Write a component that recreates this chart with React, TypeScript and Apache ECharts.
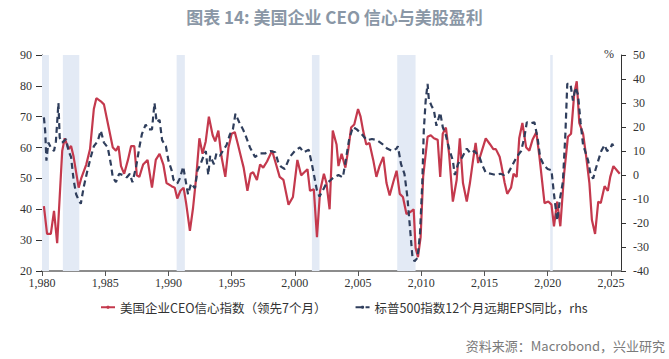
import React, { useEffect, useRef } from "react";
import * as echarts from "echarts";

// 美国企业CEO信心指数（领先7个月） — left axis
const ceoDates = [
  1980.15, 1980.4, 1980.7, 1980.95, 1981.2, 1981.6, 1981.8, 1982.1, 1982.3, 1982.5, 1982.9,
  1983.1, 1983.5, 1983.8, 1984.1, 1984.3, 1984.65, 1984.9, 1985.3, 1985.6, 1985.85,
  1986.05, 1986.25, 1986.5, 1986.8, 1987.05, 1987.3, 1987.5, 1987.7, 1988.0, 1988.35,
  1988.7, 1989.0, 1989.3, 1989.6, 1989.85, 1990.25, 1990.5, 1990.7, 1990.95, 1991.2,
  1991.4, 1991.7, 1991.95, 1992.2, 1992.45, 1992.7, 1992.95, 1993.2, 1993.5, 1993.7,
  1993.95, 1994.2, 1994.5, 1994.75, 1995.0, 1995.25, 1995.5, 1995.8, 1995.95, 1996.25,
  1996.5, 1996.7, 1997.0, 1997.25, 1997.5, 1997.8, 1998.2, 1998.45, 1998.8, 1999.1,
  1999.5, 1999.85, 2000.2, 2000.5, 2000.75, 2001.0, 2001.2, 2001.5, 2001.75, 2002.0,
  2002.3, 2002.5, 2002.75, 2003.0, 2003.3, 2003.45, 2003.7, 2004.0, 2004.25, 2004.45,
  2004.7, 2005.0, 2005.2, 2005.4, 2005.65, 2005.9, 2006.2, 2006.45, 2006.7, 2007.0,
  2007.25, 2007.5, 2007.8, 2008.05, 2008.3, 2008.55, 2008.83, 2009.1, 2009.4, 2009.55,
  2009.74, 2009.95, 2010.15, 2010.5, 2010.75, 2011.0, 2011.3, 2011.5, 2011.7, 2011.95,
  2012.2, 2012.5, 2012.8, 2013.05, 2013.3, 2013.6, 2013.85, 2014.1, 2014.3, 2014.5,
  2014.8, 2015.1, 2015.45, 2015.7, 2015.9, 2016.2, 2016.35, 2016.6, 2016.8, 2017.1,
  2017.3, 2017.55, 2017.75, 2018.0, 2018.3, 2018.55, 2018.8, 2019.1, 2019.35, 2019.75,
  2020.05, 2020.3, 2020.5, 2020.75, 2021.0, 2021.3, 2021.6, 2021.85, 2022.1, 2022.3,
  2022.5, 2022.8, 2023.05, 2023.3, 2023.5, 2023.75, 2024.0, 2024.2, 2024.5, 2024.76,
  2024.95, 2025.2, 2025.5, 2025.7,
];
const ceoValues = [
  41, 32, 32, 39.5, 29, 59, 63, 59.5, 60.5, 57, 47,
  50, 54.5, 59.5, 72.5, 76, 75, 74, 66, 60, 59,
  60.5, 54, 51.5, 56, 60.5, 60.5, 51, 50.5, 54.5, 56,
  47, 56, 58, 54.5, 48.5, 47.5, 47, 43.5, 46, 47,
  42, 33, 40.5, 50.5, 63, 58, 62, 70, 64, 62,
  65.5, 57, 50.5, 60, 64.5, 65, 61, 56, 53.5, 46,
  51.5, 52, 49.5, 54.5, 53.5, 55.5, 59, 55.5, 50.5, 49.5,
  41.5, 44, 56, 51, 52, 53, 46, 46.5, 31, 46,
  51.5, 48.5, 40, 65.5, 61, 54, 58, 53.5, 60, 66.5,
  67.5, 72.5, 70, 65.5, 61, 61.5, 56, 50.5, 54, 57,
  48.5, 44.5, 49, 52.5, 45, 44, 38.5, 39, 40, 27.5,
  24.5, 31, 50.5, 63.5, 64, 63, 62.5, 50.5, 64.5, 66.5,
  58, 42.5, 49.5, 63, 48.5, 42.5, 48.5, 56, 61.5, 55,
  59, 63, 61, 59.5, 59.5, 57, 54, 48.5, 45, 47,
  51.5, 50.5, 63, 68, 60, 59, 62.5, 65, 57, 42,
  42.5, 41.5, 34.5, 42.5, 34.5, 51.5, 63.5, 64.5, 77.5, 81.5,
  68, 64.5, 57, 48.5, 36.5, 32, 42.5, 42, 47.5, 46,
  50.5, 54, 52.5, 51.5,
];

// 标普500指数12个月远期EPS同比 (%) — right axis
const epsDates = [
  1980.15, 1980.25, 1980.35, 1980.5, 1980.7, 1980.95, 1981.1, 1981.3, 1981.4, 1981.6,
  1981.9, 1982.1, 1982.3, 1982.5, 1982.7, 1982.9, 1983.07, 1983.3, 1983.6, 1983.86,
  1984.1, 1984.4, 1984.65, 1984.9, 1985.2, 1985.45, 1985.6, 1985.85, 1986.1, 1986.4,
  1986.7, 1986.95, 1987.15, 1987.45, 1987.7, 1987.9, 1988.2, 1988.4, 1988.7, 1988.9,
  1989.07, 1989.3, 1989.5, 1989.8, 1990.0, 1990.25, 1990.4, 1990.7, 1990.9, 1991.17,
  1991.4, 1991.55, 1991.8, 1992.1, 1992.3, 1992.5, 1992.75, 1992.96, 1993.15, 1993.3,
  1993.6, 1993.8, 1994.07, 1994.3, 1994.6, 1994.87, 1995.1, 1995.3, 1995.6, 1995.9,
  1996.1, 1996.45, 1996.85, 1997.25, 1997.65, 1998.05, 1998.45, 1998.7, 1998.9, 1999.2,
  1999.6, 2000.0, 2000.4, 2000.7, 2001.1, 2001.35, 2001.55, 2001.75, 2001.95, 2002.2,
  2002.5, 2002.75, 2003.07, 2003.45, 2003.8, 2004.07, 2004.3, 2004.6, 2004.9, 2005.3,
  2005.7, 2006.1, 2006.5, 2006.9, 2007.3, 2007.7, 2008.04, 2008.15, 2008.4, 2008.67,
  2008.9, 2009.1, 2009.3, 2009.47, 2009.7, 2009.9, 2010.08, 2010.2, 2010.35, 2010.5,
  2010.6, 2010.8, 2011.0, 2011.2, 2011.5, 2011.7, 2011.95, 2012.2, 2012.5, 2012.65,
  2012.9, 2013.25, 2013.6, 2013.9, 2014.2, 2014.6, 2014.84, 2015.1, 2015.5, 2015.9,
  2016.25, 2016.55, 2016.9, 2017.2, 2017.55, 2017.9, 2018.15, 2018.35, 2018.6, 2018.95,
  2019.2, 2019.4, 2019.7, 2020.0, 2020.3, 2020.5, 2020.75, 2021.0, 2021.2, 2021.4,
  2021.55, 2021.8, 2022.0, 2022.2, 2022.4, 2022.6, 2022.8, 2022.96, 2023.2, 2023.4,
  2023.6, 2023.77, 2024.0, 2024.24, 2024.5, 2024.7, 2024.96, 2025.1, 2025.2,
];
const epsValues = [
  24, 18.5, 6, 13.5, 11.5, 10, 14, 30, 15.5, 13.5,
  15, 10, 7.5, -2, -8, -10.5, -12, -5, 2, 7.5,
  12, 14, 18.5, 13.5, 11.5, 4.5, -1, -3, 0.5, 0,
  -1, 0.5, -3, 3.5, 11.5, 17, 21, 19, 19, 30,
  22, 23, 14.5, 12, 6, 2, -2, -3.5, -1.5, 3.5,
  -3.5, -8, -3.5, -5.5, 2, 4, 7.5, 10, 0, 8,
  4.5, 9, 8, 10, 12.5, 17, 19, 25.5, 22, 19,
  16.5, 11.5, 7.5, 9, 9, 10, 9.5, 5, 3.5, 2.5,
  7.5, 10, 11.5, 9.5, 10.5, 4.5, -1, -6.5, -9, -6.5,
  -3.5, -2.5, -1, 0, -1, 7.5, 15, 20, 19, 17,
  14.5, 15, 14.5, 13, 11, 10, 11, 12, 4.5, 0.5,
  -9, -21.5, -34, -36, -34.5, -24.5, -3.5, 18.5, 31, 38,
  31.5, 29, 27, 20.5, 26, 20, 16.5, 11, 6, 0,
  4.5, 7.5, 11, 9, 10, 7.5, 4, 1, 0.5, 0,
  0.5, 0, 1, 4, 7.5, 10, 15.5, 22, 21.5, 22,
  15.5, 7.5, 4, 2.5, 2, -8, -19, -9, -3, 17,
  38, 38, 31, 36.5, 33.5, 22, 12.5, 10, 6, 0,
  -1.5, 2, 6, 10, 12.5, 10, 11, 13, 12,
];

const recessionStarts = [1980.0, 1981.65, 1990.65, 2001.35, 2008.1, 2020.2];
const recessionEnds = [1980.55, 1982.95, 1991.3, 2001.95, 2009.55, 2020.4];

const xTickYears = [1980, 1985, 1990, 1995, 2000, 2005, 2010, 2015, 2020, 2025];

const ceoName = "美国企业CEO信心指数（领先7个月）";
const epsName = "标普500指数12个月远期EPS同比，rhs";

export default function App() {
  const ref = useRef<HTMLDivElement>(null);

  useEffect(() => {
    document.body.style.margin = "0";
    if (!ref.current) return;
    const chart = echarts.init(ref.current, null, { renderer: "svg" });
    const serif = "Liberation Serif";
    const cjk = "Noto Sans CJK SC";

    chart.setOption({
      animation: false,
      backgroundColor: "#ffffff",
      textStyle: { fontFamily: serif },
      title: {
        text: "图表 14: 美国企业 CEO 信心与美股盈利",
        left: "center",
        top: 3,
        textStyle: {
          fontFamily: cjk,
          fontSize: 17,
          fontWeight: "bold",
          color: "#8a97a6",
        },
      },
      grid: { left: 42, right: 48, top: 55, bottom: 88, containLabel: false },
      legend: {
        data: [ceoName, epsName],
        left: 95,
        top: 296,
        itemWidth: 14,
        itemHeight: 4,
        itemGap: 28,
        textStyle: { fontFamily: cjk, fontSize: 12.5, color: "#333" },
      },
      xAxis: {
        type: "value",
        min: 1980,
        max: 2025.8,
        splitLine: { show: false },
        axisLine: { show: true, onZero: false, lineStyle: { color: "#8c8c8c", width: 2 } },
        axisTick: {
          show: true,
          length: 5,
          customValues: xTickYears,
          lineStyle: { color: "#555" },
        },
        axisLabel: {
          customValues: xTickYears,
          fontFamily: serif,
          fontSize: 12,
          color: "#333",
          margin: 6,
        },
      },
      yAxis: [
        {
          type: "value",
          min: 20,
          max: 90,
          interval: 10,
          position: "left",
          splitLine: { show: false },
          axisLine: { show: true, onZero: false, lineStyle: { color: "#333", width: 1 } },
          axisTick: { show: true, length: 6, lineStyle: { color: "#333" } },
          axisLabel: { fontFamily: serif, fontSize: 12, color: "#333", margin: 10 },
        },
        {
          type: "value",
          min: -40,
          max: 50,
          interval: 10,
          position: "right",
          splitLine: { show: false },
          axisLine: { show: true, onZero: false, lineStyle: { color: "#333", width: 1 } },
          axisTick: { show: true, length: 5, lineStyle: { color: "#333" } },
          axisLabel: { fontFamily: serif, fontSize: 12, color: "#333", margin: 12 },
        },
      ],
      graphic: [
        {
          type: "text",
          left: 604,
          top: 48,
          style: { text: "%", fontFamily: serif, fontSize: 12, fill: "#333" },
        },
        {
          type: "text",
          right: 4,
          top: 339,
          style: {
            text: "资料来源：Macrobond，兴业研究",
            fontFamily: cjk,
            fontSize: 13,
            fill: "#7a7a7a",
          },
        },
      ],
      series: [
        {
          name: "recession",
          type: "line",
          data: [],
          silent: true,
          markArea: {
            silent: true,
            itemStyle: { color: "#e3eaf5" },
            data: recessionStarts.map((s, i) => [{ xAxis: s }, { xAxis: recessionEnds[i] }]),
          },
        },
        {
          name: ceoName,
          type: "line",
          yAxisIndex: 0,
          symbol: "none",
          data: ceoDates.map((d, i) => [d, ceoValues[i]]),
          lineStyle: { color: "#c4394d", width: 2.2 },
          itemStyle: { color: "#c4394d" },
          z: 3,
        },
        {
          name: epsName,
          type: "line",
          yAxisIndex: 1,
          symbol: "none",
          data: epsDates.map((d, i) => [d, epsValues[i]]),
          lineStyle: { color: "#2f3e5c", width: 2.2, type: [6, 4] },
          itemStyle: { color: "#2f3e5c" },
          z: 4,
        },
      ],
    });

    return () => chart.dispose();
  }, []);

  return <div ref={ref} style={{ width: 669, height: 359 }} />;
}
